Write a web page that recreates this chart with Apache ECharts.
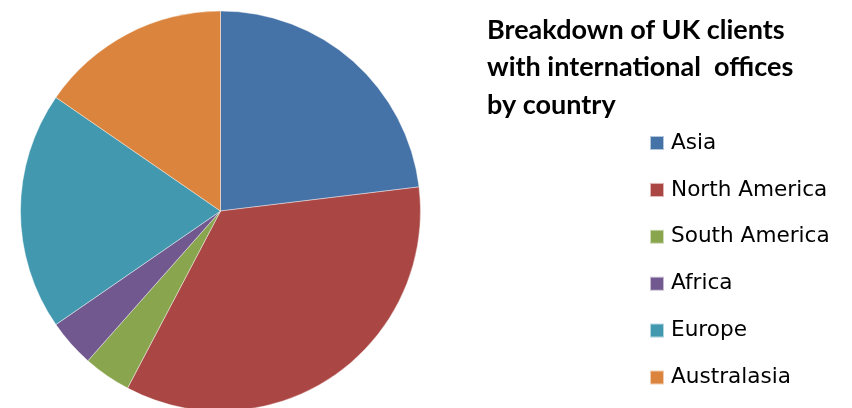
<!DOCTYPE html>
<html>
<head>
<meta charset="utf-8">
<script src="https://cdn.jsdelivr.net/npm/echarts@6/dist/echarts.min.js"></script>
<style>
  html, body { margin: 0; padding: 0; background: #fff; }
  #chart { width: 852px; height: 408px; }
</style>
</head>
<body>
<div id="chart"></div>
<script>
// Number of UK clients with international offices, per region
const regions = ['Asia', 'North America', 'South America', 'Africa', 'Europe', 'Australasia'];
const clientCounts = [6, 9, 1, 1, 5, 4];
const sliceColors = ['#4572A7', '#AA4643', '#89A54E', '#71588F', '#4198AF', '#DB843D'];

const chart = echarts.init(document.getElementById('chart'), null, { renderer: 'canvas' });

chart.setOption({
  animation: false,
  backgroundColor: '#ffffff',
  color: sliceColors,
  title: {
    text: 'Breakdown of UK clients\nwith international  offices\nby country',
    left: 482,
    top: 6.5,
    padding: 5,
    textStyle: {
      fontFamily: 'Lato',
      fontWeight: 'bold',
      fontSize: 27,
      lineHeight: 37.5,
      color: '#000'
    }
  },
  legend: {
    orient: 'vertical',
    left: 644,
    top: 127,
    padding: 5,
    itemWidth: 14,
    itemHeight: 14,
    itemGap: 24.9,
    icon: 'rect',
    selectedMode: false,
    data: regions,
    textStyle: {
      fontFamily: 'DejaVu Sans',
      fontSize: 21.6,
      lineHeight: 20,
      color: '#000',
      padding: [0, 0, 0, 2]
    }
  },
  series: [{
    type: 'pie',
    center: [220.5, 211],
    radius: 200,
    startAngle: 90,
    clockwise: true,
    label: { show: false },
    labelLine: { show: false },
    emphasis: { disabled: true },
    itemStyle: { borderColor: 'rgba(255,255,255,0.6)', borderWidth: 0.7 },
    data: regions.map((name, i) => ({ name, value: clientCounts[i] }))
  }]
});
</script>
</body>
</html>
